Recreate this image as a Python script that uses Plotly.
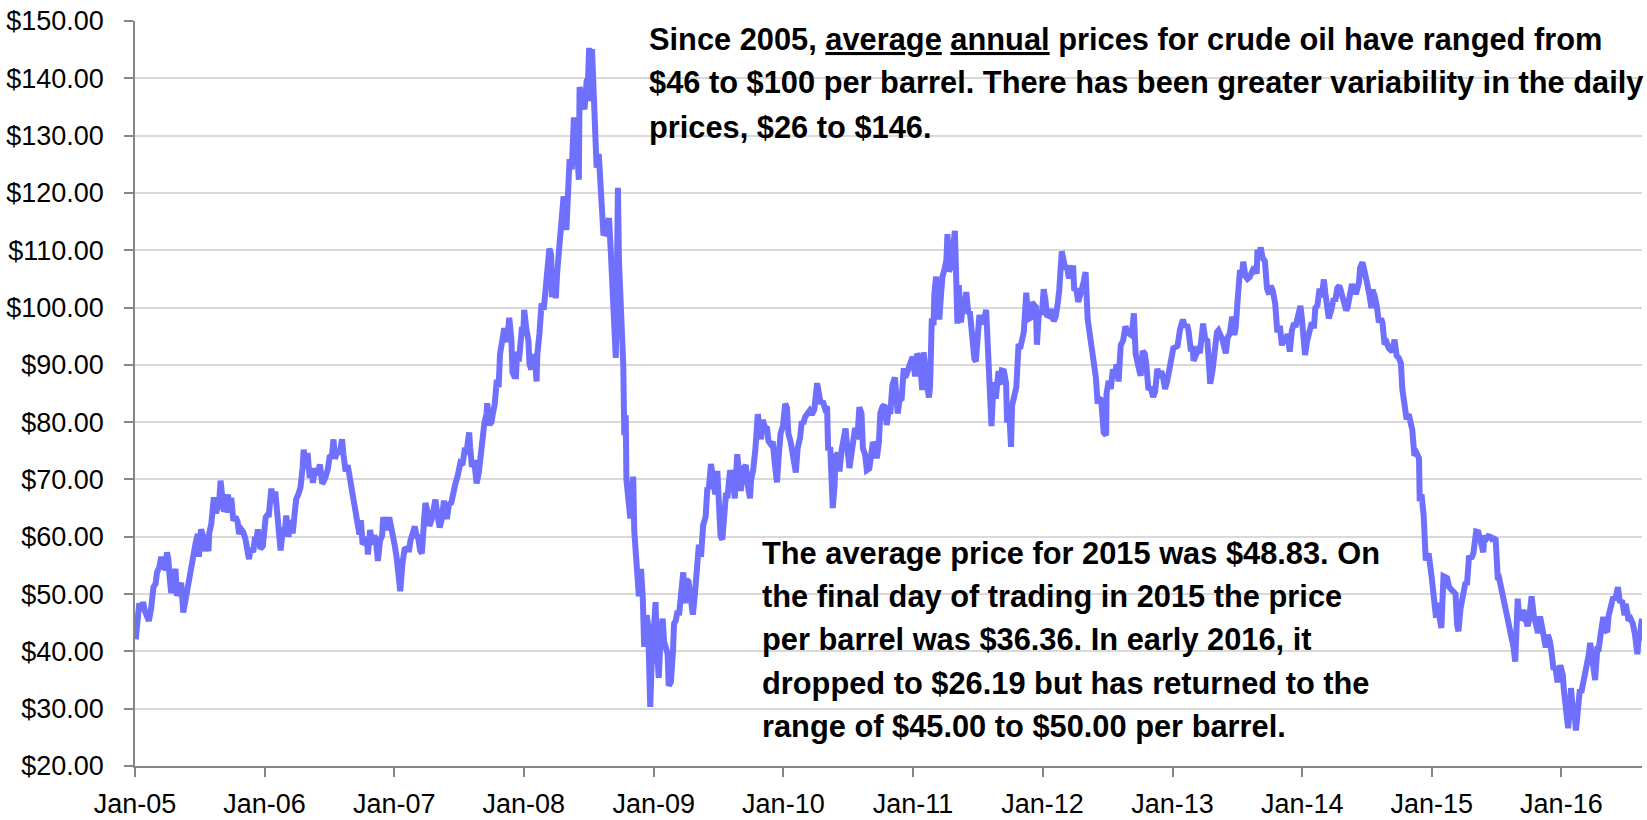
import plotly.graph_objects as go

# WTI crude oil daily spot price (USD/barrel) (approx. weekly samples)
dates_2005 = ["2005-01-03","2005-01-07","2005-01-13","2005-01-19","2005-01-24","2005-01-28",
"2005-02-03","2005-02-09","2005-02-15","2005-02-22","2005-02-28",
"2005-03-04","2005-03-10","2005-03-16","2005-03-22","2005-03-28",
"2005-04-01","2005-04-05","2005-04-08","2005-04-13","2005-04-19","2005-04-25","2005-04-29",
"2005-05-05","2005-05-11","2005-05-17","2005-05-23","2005-05-31",
"2005-06-06","2005-06-13","2005-06-17","2005-06-21","2005-06-27","2005-06-30",
"2005-07-06","2005-07-12","2005-07-18","2005-07-22","2005-07-27","2005-07-29",
"2005-08-04","2005-08-11","2005-08-17","2005-08-23","2005-08-26","2005-08-30",
"2005-09-02","2005-09-08","2005-09-14","2005-09-20","2005-09-23","2005-09-29",
"2005-10-05","2005-10-11","2005-10-17","2005-10-21","2005-10-27",
"2005-11-02","2005-11-08","2005-11-14","2005-11-18","2005-11-23","2005-11-30",
"2005-12-05","2005-12-09","2005-12-13","2005-12-20","2005-12-27","2005-12-30"]
price_2005 = [42.1,45.4,48.4,47.1,48.6,47.2,
46.5,45.3,47.3,51.2,51.8,
53.8,54.6,56.5,54.9,54.3,
57.3,56.0,53.3,50.2,52.4,54.4,49.7,
50.9,52.0,46.8,49.0,51.9,
54.5,55.6,58.5,59.0,60.5,56.5,
61.3,60.1,57.5,58.7,57.5,60.6,
62.3,66.9,64.1,65.7,66.1,69.8,
67.6,64.4,65.1,67.4,64.2,66.8,
62.8,63.5,62.6,60.5,61.3,
60.8,59.6,57.8,56.1,58.0,57.3,
60.0,59.4,61.3,57.9,58.4,61.0]

dates_2006 = ["2006-01-04","2006-01-10","2006-01-13","2006-01-20","2006-01-25","2006-01-31",
"2006-02-03","2006-02-08","2006-02-15","2006-02-21","2006-02-27",
"2006-03-03","2006-03-09","2006-03-15","2006-03-21","2006-03-27","2006-03-31",
"2006-04-06","2006-04-12","2006-04-18","2006-04-21","2006-04-27",
"2006-05-02","2006-05-08","2006-05-12","2006-05-17","2006-05-23","2006-05-31",
"2006-06-06","2006-06-12","2006-06-16","2006-06-22","2006-06-28",
"2006-07-03","2006-07-10","2006-07-14","2006-07-18","2006-07-24","2006-07-28",
"2006-08-02","2006-08-07","2006-08-11","2006-08-17","2006-08-23","2006-08-29",
"2006-09-05","2006-09-11","2006-09-15","2006-09-20","2006-09-25","2006-09-29",
"2006-10-04","2006-10-10","2006-10-16","2006-10-19","2006-10-25","2006-10-31",
"2006-11-06","2006-11-10","2006-11-16","2006-11-22","2006-11-28",
"2006-12-01","2006-12-06","2006-12-12","2006-12-18","2006-12-22","2006-12-28"]
price_2006 = [63.4,63.9,63.9,68.4,66.0,67.9,
65.4,62.6,57.6,61.1,61.0,
63.7,60.0,62.9,60.6,64.3,66.6,
67.4,68.6,72.0,75.2,71.9,
74.6,70.3,72.0,69.4,71.8,71.3,
72.6,69.3,69.6,70.5,71.8,
73.9,74.3,77.0,73.6,74.9,74.5,
75.2,77.0,74.4,71.4,72.5,70.2,
67.5,65.6,63.4,61.6,60.4,62.9,
58.7,59.1,59.9,56.9,61.2,58.7,
60.2,59.6,55.8,59.3,60.2,
63.4,62.2,61.2,63.4,62.4,60.8]

dates_2007 = ["2007-01-03","2007-01-08","2007-01-12","2007-01-18","2007-01-24","2007-01-31",
"2007-02-06","2007-02-12","2007-02-16","2007-02-22","2007-02-28",
"2007-03-05","2007-03-09","2007-03-15","2007-03-20","2007-03-26","2007-03-30",
"2007-04-05","2007-04-10","2007-04-17","2007-04-23","2007-04-27",
"2007-05-03","2007-05-09","2007-05-15","2007-05-21","2007-05-29",
"2007-06-04","2007-06-11","2007-06-18","2007-06-22","2007-06-29",
"2007-07-06","2007-07-12","2007-07-18","2007-07-24","2007-07-31",
"2007-08-03","2007-08-08","2007-08-14","2007-08-21","2007-08-27","2007-08-31",
"2007-09-06","2007-09-12","2007-09-18","2007-09-20","2007-09-26",
"2007-10-02","2007-10-05","2007-10-11","2007-10-17","2007-10-22","2007-10-26","2007-10-31",
"2007-11-02","2007-11-07","2007-11-12","2007-11-15","2007-11-21","2007-11-27","2007-11-30",
"2007-12-05","2007-12-10","2007-12-13","2007-12-18","2007-12-21","2007-12-27","2007-12-31"]
price_2007 = [58.3,56.3,52.9,50.5,55.3,58.1,
57.8,57.8,59.4,61.1,61.8,
60.1,60.0,57.6,57.1,62.9,65.9,
64.3,61.9,63.1,65.5,66.5,
63.7,61.6,63.1,66.3,63.1,
65.6,66.0,68.9,69.2,70.7,
72.8,72.5,75.0,74.9,78.2,
75.5,72.2,73.4,69.3,71.1,74.0,
76.3,79.9,81.5,83.3,79.6,
80.0,81.2,83.1,87.4,86.1,91.9,94.5,
95.9,96.4,94.6,94.0,98.2,94.4,88.7,
88.0,88.0,92.3,90.6,93.3,96.6,96.0]

dates_2008 = ["2008-01-02","2008-01-08","2008-01-14","2008-01-17","2008-01-22","2008-01-25","2008-01-31",
"2008-02-06","2008-02-08","2008-02-14","2008-02-20","2008-02-26","2008-02-29",
"2008-03-05","2008-03-10","2008-03-13","2008-03-18","2008-03-20","2008-03-26","2008-03-31",
"2008-04-04","2008-04-09","2008-04-15","2008-04-22","2008-04-28","2008-04-30",
"2008-05-06","2008-05-09","2008-05-15","2008-05-21","2008-05-27","2008-05-30",
"2008-06-04","2008-06-06","2008-06-11","2008-06-16","2008-06-20","2008-06-26","2008-06-30",
"2008-07-03","2008-07-08","2008-07-11","2008-07-16","2008-07-21","2008-07-24","2008-07-30",
"2008-08-05","2008-08-08","2008-08-12","2008-08-18","2008-08-22","2008-08-28",
"2008-09-02","2008-09-05","2008-09-10","2008-09-16","2008-09-19","2008-09-22","2008-09-25","2008-09-30",
"2008-10-03","2008-10-07","2008-10-10","2008-10-14","2008-10-16","2008-10-22","2008-10-27","2008-10-30",
"2008-11-04","2008-11-07","2008-11-12","2008-11-17","2008-11-20","2008-11-26",
"2008-12-01","2008-12-05","2008-12-10","2008-12-12","2008-12-16","2008-12-19","2008-12-22","2008-12-26","2008-12-31"]
price_2008 = [99.6,96.3,94.2,90.1,89.2,90.7,91.8,
87.1,91.8,95.5,100.7,99.6,101.8,
104.5,107.9,110.3,109.2,101.8,105.9,101.6,
106.2,110.9,113.8,119.4,118.8,113.5,
122.0,125.9,124.1,133.2,128.9,127.4,
122.3,138.5,136.4,134.6,134.6,139.6,140.0,
145.3,136.0,145.1,134.6,131.0,124.4,126.8,
119.2,115.2,113.0,112.9,114.6,115.6,
109.7,106.2,102.6,91.2,104.6,120.9,108.0,100.6,
93.9,90.1,77.7,81.2,69.9,66.8,63.2,65.9,
70.5,61.0,56.2,54.9,49.6,54.4,
49.3,40.8,43.5,46.3,44.6,33.9,30.3,37.7,44.6]

dates_2009 = ["2009-01-06","2009-01-09","2009-01-14","2009-01-15","2009-01-21","2009-01-26","2009-01-30",
"2009-02-04","2009-02-09","2009-02-12","2009-02-18","2009-02-24","2009-02-27",
"2009-03-04","2009-03-09","2009-03-13","2009-03-19","2009-03-25","2009-03-30",
"2009-04-03","2009-04-09","2009-04-15","2009-04-21","2009-04-27",
"2009-05-04","2009-05-08","2009-05-14","2009-05-20","2009-05-27",
"2009-06-01","2009-06-05","2009-06-11","2009-06-17","2009-06-23","2009-06-29",
"2009-07-02","2009-07-08","2009-07-13","2009-07-17","2009-07-23","2009-07-28",
"2009-08-04","2009-08-07","2009-08-12","2009-08-17","2009-08-24","2009-08-31",
"2009-09-03","2009-09-10","2009-09-17","2009-09-23","2009-09-29",
"2009-10-02","2009-10-08","2009-10-14","2009-10-21","2009-10-26","2009-10-30",
"2009-11-04","2009-11-10","2009-11-16","2009-11-20","2009-11-27",
"2009-12-02","2009-12-08","2009-12-14","2009-12-18","2009-12-24","2009-12-31"]
price_2009 = [48.6,41.7,37.6,35.4,43.6,45.7,41.7,
40.3,39.6,34.0,34.6,39.9,44.8,
45.4,47.1,46.3,51.6,53.8,48.4,
52.5,52.2,49.4,46.4,50.1,
54.5,58.6,56.5,62.0,63.5,
68.6,68.4,72.7,70.5,67.4,71.5,
66.7,60.1,59.5,63.6,67.2,67.2,
71.6,70.9,70.2,66.7,74.4,69.9,
68.0,71.9,72.5,68.9,66.7,
69.9,71.7,75.2,81.4,78.7,77.0,
80.4,79.1,78.9,76.7,76.1,
76.6,72.6,69.5,73.4,78.0,79.4]

dates_2010 = ["2010-01-06","2010-01-11","2010-01-15","2010-01-21","2010-01-28",
"2010-02-05","2010-02-10","2010-02-17","2010-02-22","2010-02-26",
"2010-03-03","2010-03-10","2010-03-16","2010-03-22","2010-03-29",
"2010-04-06","2010-04-12","2010-04-16","2010-04-22","2010-04-28",
"2010-05-04","2010-05-07","2010-05-13","2010-05-18","2010-05-20","2010-05-25","2010-05-28",
"2010-06-03","2010-06-08","2010-06-14","2010-06-21","2010-06-25","2010-06-30",
"2010-07-06","2010-07-12","2010-07-16","2010-07-22","2010-07-28",
"2010-08-03","2010-08-09","2010-08-13","2010-08-19","2010-08-24","2010-08-31",
"2010-09-06","2010-09-10","2010-09-15","2010-09-21","2010-09-27",
"2010-10-01","2010-10-07","2010-10-13","2010-10-19","2010-10-25","2010-10-29",
"2010-11-04","2010-11-11","2010-11-16","2010-11-19","2010-11-24","2010-11-30",
"2010-12-06","2010-12-10","2010-12-15","2010-12-21","2010-12-28","2010-12-31"]
price_2010 = [83.2,82.5,78.0,76.7,73.6,
71.2,75.4,77.3,80.2,79.7,
80.9,81.5,82.0,81.3,82.2,
86.8,84.3,83.2,83.7,82.4,
82.7,75.1,75.6,69.4,65.0,68.8,74.0,
74.6,71.4,75.1,77.8,78.9,75.6,
72.0,74.6,76.0,79.0,77.0,
82.6,81.5,75.4,74.4,71.6,71.9,
75.0,76.5,76.0,73.7,76.5,
81.6,82.7,83.0,79.5,82.5,81.4,
86.5,87.8,82.3,81.5,83.9,84.1,
89.4,87.8,88.6,89.8,91.0,91.4]

dates_2011 = ["2011-01-04","2011-01-07","2011-01-12","2011-01-18","2011-01-24","2011-01-27","2011-01-31",
"2011-02-04","2011-02-09","2011-02-15","2011-02-18","2011-02-23","2011-02-28",
"2011-03-02","2011-03-07","2011-03-11","2011-03-16","2011-03-21","2011-03-25","2011-03-31",
"2011-04-05","2011-04-08","2011-04-12","2011-04-18","2011-04-25","2011-04-29",
"2011-05-05","2011-05-06","2011-05-10","2011-05-16","2011-05-20","2011-05-26","2011-05-31",
"2011-06-06","2011-06-10","2011-06-15","2011-06-20","2011-06-23","2011-06-27",
"2011-07-01","2011-07-07","2011-07-12","2011-07-19","2011-07-26","2011-07-29",
"2011-08-04","2011-08-08","2011-08-10","2011-08-16","2011-08-22","2011-08-30",
"2011-09-02","2011-09-08","2011-09-14","2011-09-20","2011-09-23","2011-09-29",
"2011-10-04","2011-10-07","2011-10-13","2011-10-19","2011-10-25","2011-10-31",
"2011-11-04","2011-11-09","2011-11-16","2011-11-22","2011-11-28",
"2011-12-02","2011-12-07","2011-12-13","2011-12-16","2011-12-22","2011-12-30"]
price_2011 = [89.4,88.0,91.9,91.4,87.9,85.6,92.2,
89.0,86.7,84.3,86.2,98.1,96.9,
102.2,105.4,101.2,97.9,102.3,105.4,106.7,
108.3,112.8,106.3,107.1,112.3,113.4,
99.8,97.2,103.9,97.4,99.5,100.2,102.7,
98.9,99.3,95.0,93.3,91.0,90.6,
94.9,98.7,97.4,97.5,99.6,95.7,
86.6,81.3,79.3,87.0,84.1,88.9,
86.5,89.0,88.9,86.9,79.9,82.1,
75.7,82.9,84.2,86.1,93.2,93.2,
94.3,95.7,102.6,98.0,98.2,
100.9,100.5,100.1,93.5,99.5,98.8]

dates_2012 = ["2012-01-04","2012-01-09","2012-01-13","2012-01-20","2012-01-26","2012-02-01",
"2012-02-07","2012-02-13","2012-02-17","2012-02-24","2012-02-29",
"2012-03-05","2012-03-09","2012-03-15","2012-03-21","2012-03-27","2012-03-30",
"2012-04-05","2012-04-10","2012-04-16","2012-04-20","2012-04-26","2012-05-01",
"2012-05-07","2012-05-11","2012-05-17","2012-05-23","2012-05-30",
"2012-06-04","2012-06-08","2012-06-14","2012-06-21","2012-06-28","2012-06-29",
"2012-07-05","2012-07-11","2012-07-17","2012-07-23","2012-07-27",
"2012-08-02","2012-08-08","2012-08-15","2012-08-21","2012-08-28",
"2012-09-04","2012-09-10","2012-09-14","2012-09-19","2012-09-26",
"2012-10-03","2012-10-09","2012-10-15","2012-10-19","2012-10-25","2012-10-31",
"2012-11-07","2012-11-13","2012-11-19","2012-11-26","2012-11-30",
"2012-12-05","2012-12-11","2012-12-17","2012-12-21","2012-12-28"]
price_2012 = [103.2,101.3,98.7,98.5,99.7,97.6,
98.4,100.9,103.2,109.8,107.1,
106.7,107.4,105.1,106.2,107.3,103.0,
103.3,101.0,102.9,103.1,104.6,106.2,
97.9,96.1,92.6,89.9,87.8,
83.2,84.1,83.9,78.2,77.7,84.9,
87.2,85.8,89.2,88.1,90.1,
87.1,93.4,94.3,96.7,95.6,
95.3,96.5,99.0,91.9,89.9,
88.1,92.4,91.9,90.1,85.6,86.2,
84.4,85.4,89.3,87.7,88.9,
87.9,85.8,87.2,88.6,90.8]

dates_2013 = ["2013-01-03","2013-01-09","2013-01-15","2013-01-22","2013-01-30",
"2013-02-05","2013-02-11","2013-02-15","2013-02-21","2013-02-27",
"2013-03-01","2013-03-07","2013-03-13","2013-03-19","2013-03-25","2013-03-28",
"2013-04-03","2013-04-09","2013-04-15","2013-04-17","2013-04-23","2013-04-30",
"2013-05-06","2013-05-10","2013-05-16","2013-05-22","2013-05-31",
"2013-06-05","2013-06-11","2013-06-18","2013-06-24","2013-06-28",
"2013-07-03","2013-07-10","2013-07-16","2013-07-19","2013-07-25","2013-07-31",
"2013-08-06","2013-08-12","2013-08-19","2013-08-26","2013-08-28",
"2013-09-03","2013-09-06","2013-09-12","2013-09-18","2013-09-24","2013-09-30",
"2013-10-04","2013-10-10","2013-10-17","2013-10-23","2013-10-30",
"2013-11-05","2013-11-11","2013-11-15","2013-11-21","2013-11-27",
"2013-12-03","2013-12-09","2013-12-13","2013-12-19","2013-12-27","2013-12-31"]
price_2013 = [92.9,93.1,93.3,96.2,97.9,
96.6,97.0,95.9,92.8,92.8,
90.7,91.6,92.5,92.1,94.8,97.2,
94.5,94.2,88.7,86.7,88.8,93.5,
95.7,96.0,95.2,94.3,92.0,
94.8,95.4,98.4,95.2,96.6,
101.2,106.5,106.0,108.0,105.5,105.0,
105.3,106.1,107.1,105.9,110.1,
108.5,110.5,108.6,108.1,103.3,102.3,
103.8,103.0,100.7,95.7,96.8,
93.4,95.1,93.8,95.4,92.3,
96.0,97.3,96.6,98.4,100.3,98.2]

dates_2014 = ["2014-01-06","2014-01-09","2014-01-15","2014-01-22","2014-01-28",
"2014-02-03","2014-02-07","2014-02-13","2014-02-19","2014-02-25",
"2014-03-03","2014-03-07","2014-03-13","2014-03-17","2014-03-24","2014-03-31",
"2014-04-04","2014-04-10","2014-04-16","2014-04-22","2014-04-28",
"2014-05-05","2014-05-09","2014-05-15","2014-05-21","2014-05-28",
"2014-06-03","2014-06-10","2014-06-13","2014-06-20","2014-06-26",
"2014-07-02","2014-07-09","2014-07-15","2014-07-18","2014-07-24","2014-07-30",
"2014-08-05","2014-08-11","2014-08-15","2014-08-21","2014-08-27",
"2014-09-02","2014-09-08","2014-09-12","2014-09-18","2014-09-24","2014-09-30",
"2014-10-06","2014-10-10","2014-10-16","2014-10-22","2014-10-28",
"2014-11-03","2014-11-07","2014-11-13","2014-11-19","2014-11-26","2014-11-28",
"2014-12-03","2014-12-09","2014-12-15","2014-12-19","2014-12-23","2014-12-31"]
price_2014 = [93.4,91.7,94.2,96.7,97.4,
96.4,99.9,100.4,103.3,101.8,
104.9,102.6,98.2,98.1,99.6,101.6,
101.1,103.4,103.8,102.1,100.8,
99.5,100.0,102.0,104.1,102.7,
102.7,104.4,106.9,107.9,106.5,
104.5,102.3,99.9,103.1,102.1,100.3,
97.4,98.1,97.4,93.6,93.9,
92.9,92.3,92.3,94.4,91.6,91.2,
90.3,85.8,81.8,80.5,81.4,
78.8,78.7,74.2,74.6,73.7,66.2,
67.4,63.8,55.9,56.5,57.1,53.3]

dates_2015 = ["2015-01-05","2015-01-09","2015-01-13","2015-01-16","2015-01-22","2015-01-28",
"2015-02-03","2015-02-09","2015-02-13","2015-02-19","2015-02-25",
"2015-03-03","2015-03-09","2015-03-13","2015-03-17","2015-03-23","2015-03-27",
"2015-04-01","2015-04-06","2015-04-10","2015-04-16","2015-04-22","2015-04-28",
"2015-05-06","2015-05-12","2015-05-18","2015-05-26","2015-05-29",
"2015-06-03","2015-06-09","2015-06-15","2015-06-19","2015-06-25","2015-06-30",
"2015-07-06","2015-07-10","2015-07-16","2015-07-22","2015-07-28",
"2015-08-03","2015-08-07","2015-08-13","2015-08-19","2015-08-24","2015-08-27","2015-08-31",
"2015-09-04","2015-09-10","2015-09-16","2015-09-22","2015-09-28",
"2015-10-02","2015-10-08","2015-10-09","2015-10-15","2015-10-21","2015-10-27",
"2015-11-02","2015-11-06","2015-11-12","2015-11-18","2015-11-24","2015-11-30",
"2015-12-04","2015-12-10","2015-12-15","2015-12-21","2015-12-29","2015-12-31"]
price_2015 = [50.0,48.4,45.9,48.5,46.3,44.1,
53.1,52.9,52.8,51.2,50.9,
50.5,50.0,44.8,43.5,47.5,48.9,
50.1,52.1,51.6,56.7,56.2,57.1,
60.9,60.8,59.4,57.3,60.2,
59.6,60.1,60.0,59.6,59.7,59.5,
52.5,52.7,50.9,49.2,47.4,
45.2,43.9,42.2,40.8,38.2,42.6,49.2,
46.1,45.9,47.2,46.0,44.4,
45.5,49.4,49.6,46.4,45.2,43.2,
46.1,44.3,41.7,40.7,42.9,41.7,
39.9,36.8,37.4,34.6,37.6,37.0]

dates_2016 = ["2016-01-05","2016-01-08","2016-01-12","2016-01-15","2016-01-20","2016-01-25","2016-01-28",
"2016-02-02","2016-02-05","2016-02-11","2016-02-17","2016-02-22","2016-02-26",
"2016-03-03","2016-03-08","2016-03-14","2016-03-18","2016-03-22","2016-03-28",
"2016-04-05","2016-04-11","2016-04-15","2016-04-21","2016-04-28",
"2016-05-03","2016-05-09","2016-05-13","2016-05-19","2016-05-26",
"2016-06-01","2016-06-08","2016-06-14","2016-06-20","2016-06-27","2016-06-30",
"2016-07-05","2016-07-08","2016-07-14","2016-07-20","2016-07-26","2016-07-29",
"2016-08-02","2016-08-05","2016-08-10","2016-08-12","2016-08-15"]
price_2016 = [35.9,33.2,30.4,29.4,26.6,30.3,33.6,
29.9,30.9,26.2,30.7,33.4,32.8,
34.6,36.6,37.2,39.4,41.5,39.3,
35.0,40.4,40.4,43.2,46.0,
43.7,43.4,46.2,48.2,49.5,
49.0,51.2,48.5,48.9,46.3,48.3,
46.6,45.4,45.7,44.9,43.0,41.6,
39.5,41.8,42.8,44.5,45.7]

dates = (dates_2005 + dates_2006 + dates_2007 + dates_2008 + dates_2009 + dates_2010 +
         dates_2011 + dates_2012 + dates_2013 + dates_2014 + dates_2015 + dates_2016)
prices = (price_2005 + price_2006 + price_2007 + price_2008 + price_2009 + price_2010 +
          price_2011 + price_2012 + price_2013 + price_2014 + price_2015 + price_2016)

note_top_lines = [
    "Since 2005, <u>average</u> <u>annual</u> prices for crude oil have ranged from",
    "$46 to $100 per barrel. There has been greater variability in the daily",
    "prices, $26 to $146.",
]
note_bottom_lines = [
    "The average price for 2015 was $48.83. On",
    "the final day of trading in 2015 the price",
    "per barrel was $36.36. In early 2016, it",
    "dropped to $26.19 but has returned to the",
    "range of $45.00 to $50.00 per barrel.",
]

FONT = "Liberation Sans, Arial, sans-serif"
AXIS_GREY = "#868686"

# plot-area geometry in pixels (figure is 1647 x 820)
PLOT_LEFT, PLOT_RIGHT, PLOT_TOP, PLOT_BOTTOM = 135, 1642, 21, 766
def px_to_paper_x(px):
    return (px - PLOT_LEFT) / (PLOT_RIGHT - PLOT_LEFT)
def px_to_paper_y(py):
    return (PLOT_BOTTOM - py) / (PLOT_BOTTOM - PLOT_TOP)

annotations = []
for i, line in enumerate(note_top_lines):
    annotations.append(dict(
        text="<b>" + line + "</b>", xref="paper", yref="paper",
        x=px_to_paper_x(647), y=px_to_paper_y(39 + 44.0 * i),
        xanchor="left", yanchor="middle", align="left", showarrow=False,
        font=dict(family=FONT, size=30.8, color="black")))
for i, line in enumerate(note_bottom_lines):
    annotations.append(dict(
        text="<b>" + line + "</b>", xref="paper", yref="paper",
        x=px_to_paper_x(760), y=px_to_paper_y(553 + 43.4 * i),
        xanchor="left", yanchor="middle", align="left", showarrow=False,
        font=dict(family=FONT, size=30.8, color="black")))

fig = go.Figure()
fig.add_trace(go.Scatter(
    x=dates, y=prices, mode="lines",
    line=dict(color="#7070ff", width=6, shape="linear"),
    showlegend=False, hoverinfo="x+y"))

fig.update_layout(
    width=1647, height=820,
    margin=dict(l=PLOT_LEFT, r=1647 - PLOT_RIGHT, t=PLOT_TOP, b=820 - PLOT_BOTTOM, pad=0),
    paper_bgcolor="white", plot_bgcolor="white",
    font=dict(family=FONT, color="black", size=27),
    showlegend=False,
    annotations=annotations,
)
fig.update_xaxes(
    type="date", range=["2005-01-01", "2016-08-15"],
    tick0="2005-01-01", dtick="M12", tickformat="%b-%y",
    ticks="outside", ticklen=9, tickwidth=1.5, tickcolor=AXIS_GREY,
    showline=True, linecolor=AXIS_GREY, linewidth=1.5,
    showgrid=False, zeroline=False, automargin=False,
    ticklabelstandoff=4,
    tickfont=dict(family=FONT, size=27, color="black"),
)
fig.update_yaxes(
    range=[20, 150], tick0=20, dtick=10, tickprefix="$", tickformat=".2f",
    ticks="outside", ticklen=9, tickwidth=1.5, tickcolor=AXIS_GREY,
    showline=True, linecolor=AXIS_GREY, linewidth=1.5,
    showgrid=True, gridcolor="#d9d9d9", gridwidth=1.5, zeroline=False,
    automargin=False,
    ticklabelstandoff=15,
    tickfont=dict(family=FONT, size=27, color="black"),
)

fig.write_html("out.html", config={"displayModeBar": False},
               post_script="document.body.style.margin='0';document.body.style.overflow='hidden';")
